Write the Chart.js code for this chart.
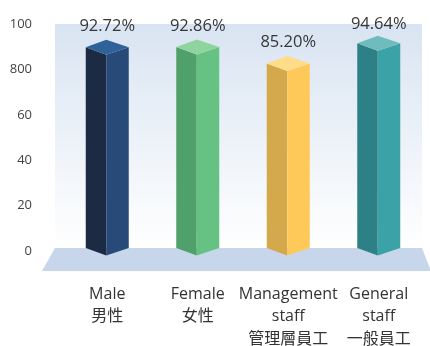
<!DOCTYPE html>
<html>
<head>
<meta charset="utf-8">
<script src="https://cdn.jsdelivr.net/npm/chart.js@4.4.1/dist/chart.umd.min.js"></script>
<style>
  html, body { margin: 0; padding: 0; background: #fff; }
  #wrap { width: 430px; height: 346px; }
</style>
</head>
<body>
<div id="wrap"><canvas id="myChart" width="430" height="346"></canvas></div>
<script>
const categories = [
    ['Male', '男性'],
    ['Female', '女性'],
    ['Management', 'staff', '管理層員工'],
    ['General', 'staff', '一般員工']
];
const rates = [92.72, 92.86, 85.20, 94.64];
const tickValues = [0, 20, 40, 60, 80, 100];
const tickLabels = ['0', '20', '40', '60', '800', '100'];

// left face, right face, top face for each prism
const faceColors = [
    ['#1c2a44', '#274a78', '#2f6298'],
    ['#50a06b', '#65c282', '#8fd49f'],
    ['#d4a94c', '#ffc95a', '#ffdc87'],
    ['#2d8085', '#3ba3a8', '#6fbcbf']
];

const depth = 7.5;

// back wall and floor behind the bars
const stage = {
    id: 'stage',
    beforeDatasetsDraw(chart) {
        const ctx = chart.ctx;
        const area = chart.chartArea;
        const top = chart.scales.y.getPixelForValue(100);
        const floor = chart.scales.yBar.getPixelForValue(0);
        const left = area.left - 7;
        const right = area.right - 2;

        ctx.save();
        const g = ctx.createLinearGradient(0, top, 0, floor);
        g.addColorStop(0, '#d9e4f2');
        g.addColorStop(1, '#ffffff');
        ctx.fillStyle = g;
        ctx.fillRect(left, top, right - left, floor - top);

        ctx.fillStyle = '#c7d6eb';
        ctx.beginPath();
        ctx.moveTo(left, floor);
        ctx.lineTo(right, floor);
        ctx.lineTo(right + 9, floor + 23);
        ctx.lineTo(left - 13, floor + 23);
        ctx.closePath();
        ctx.fill();
        ctx.restore();
    }
};

// square prisms turned 45 degrees, plus the value on top
const prisms = {
    id: 'prisms',
    afterDatasetsDraw(chart) {
        const ctx = chart.ctx;
        const meta = chart.getDatasetMeta(0);
        ctx.save();
        meta.data.forEach((bar, i) => {
            const p = bar.getProps(['x', 'y', 'base', 'width'], true);
            const l = p.x - p.width / 2;
            const r = p.x + p.width / 2;
            const cx = p.x - 1;
            const c = faceColors[i];

            ctx.fillStyle = c[0];
            ctx.beginPath();
            ctx.moveTo(l, p.y);
            ctx.lineTo(cx, p.y + depth);
            ctx.lineTo(cx, p.base + depth);
            ctx.lineTo(l, p.base);
            ctx.closePath();
            ctx.fill();

            ctx.fillStyle = c[1];
            ctx.beginPath();
            ctx.moveTo(cx, p.y + depth);
            ctx.lineTo(r, p.y);
            ctx.lineTo(r, p.base);
            ctx.lineTo(cx, p.base + depth);
            ctx.closePath();
            ctx.fill();

            ctx.fillStyle = c[2];
            ctx.beginPath();
            ctx.moveTo(l, p.y);
            ctx.lineTo(cx, p.y - depth);
            ctx.lineTo(r, p.y);
            ctx.lineTo(cx, p.y + depth);
            ctx.closePath();
            ctx.fill();

            ctx.fillStyle = '#363636';
            ctx.font = '16.5px "Open Sans"';
            ctx.textAlign = 'center';
            ctx.textBaseline = 'alphabetic';
            ctx.fillText(rates[i].toFixed(2) + '%', p.x, Math.max(p.y - 16.5, 29));
        });
        ctx.restore();
    }
};

var ctx = document.getElementById('myChart').getContext('2d');

var chart = new Chart(ctx, {
    type: 'bar',
    data: {
        labels: categories,
        datasets: [{
            data: rates,
            yAxisID: 'yBar',
            backgroundColor: 'rgba(0,0,0,0)',
            barThickness: 43
        }]
    },
    options: {
        responsive: false,
        animation: false,
        events: [],
        layout: { padding: { top: 24, right: 6, left: 0, bottom: 0 } },
        plugins: {
            legend: { display: false },
            tooltip: { enabled: false }
        },
        scales: {
            x: {
                grid: { display: false, drawTicks: false },
                border: { display: false },
                ticks: {
                    padding: 32,
                    color: '#333',
                    font: { family: '"Open Sans", "Noto Sans CJK TC"', size: 16, lineHeight: 1.4 },
                    maxRotation: 0,
                    autoSkip: false
                },
                afterFit(scale) {
                    scale.height = 95;
                    scale.paddingLeft = 0;
                    scale.paddingRight = 0;
                }
            },
            y: {
                min: 0,
                max: 100,
                afterBuildTicks(scale) {
                    scale.ticks = tickValues.map(v => ({ value: v }));
                },
                grid: { display: false, drawTicks: false },
                border: { display: false },
                ticks: {
                    padding: 30,
                    color: '#444',
                    font: { family: '"Open Sans"', size: 13 },
                    callback: (v) => tickLabels[tickValues.indexOf(v)]
                },
                afterFit(scale) {
                    scale.width = 62;
                    scale.paddingTop = 0;
                    scale.paddingBottom = 0;
                }
            },
            yBar: {
                display: false,
                min: -1.4,
                max: 103.5
            }
        }
    },
    plugins: [stage, prisms]
});
</script>
</body>
</html>
